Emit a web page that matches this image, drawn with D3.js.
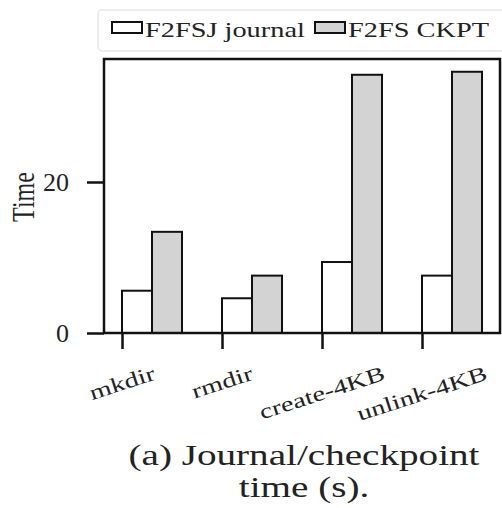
<!DOCTYPE html>
<html><head><meta charset="utf-8">
<script src="https://cdn.jsdelivr.net/npm/d3@7"></script>
<style>
html,body{margin:0;padding:0;background:#fff;}
svg text{font-family:"Liberation Serif","Times New Roman",serif;fill:#222;}
</style></head>
<body><svg id="c" width="502" height="508"></svg>
<script>
const categories = ["mkdir","rmdir","create-4KB","unlink-4KB"];
const journal = [5.6, 4.6, 9.4, 7.6];
const ckpt = [13.4, 7.6, 34.2, 34.6];
const seriesNames = ["F2FSJ journal","F2FS CKPT"];
const yTicks = [0, 20];
const yLabel = "Time";
const caption = ["(a) Journal/checkpoint","time (s)."];

const svg = d3.select("#c");
const L = 104, R = 500, T = 59, B = 333;
const SX = 1.35;
const x = d3.scaleLinear().domain([-0.18, 3.78]).range([L, R]);
const y = d3.scaleLinear().domain([0, 36.29]).range([B, T]);
const bw = 0.3;
const fills = ["#ffffff", "#d3d3d3"];
const series = [journal, ckpt];

series.forEach((vals, s) => {
  svg.append("g").selectAll("rect").data(vals).join("rect")
    .attr("x", (d, i) => x(i + s * bw))
    .attr("y", d => y(d))
    .attr("width", x(bw) - x(0))
    .attr("height", d => y(0) - y(d))
    .attr("fill", fills[s]).attr("stroke", "#111").attr("stroke-width", 2);
});

svg.append("rect").attr("x", L).attr("y", T).attr("width", R - L).attr("height", B - T)
  .attr("fill", "none").attr("stroke", "#111").attr("stroke-width", 2.5);

const ya = svg.append("g").attr("transform", `translate(${L},0)`)
  .call(d3.axisLeft(y).tickValues(yTicks).tickSize(17).tickPadding(17).tickFormat(d3.format("d")));
ya.select(".domain").remove();
ya.selectAll("line").attr("stroke", "#111").attr("stroke-width", 2.5);
ya.selectAll("text").attr("font-size", 26).attr("fill", "#222").attr("x", -35);

const xa = svg.append("g").attr("transform", `translate(0,${B})`)
  .call(d3.axisBottom(x).tickValues(d3.range(categories.length)).tickSize(16).tickFormat(""));
xa.select(".domain").remove();
xa.selectAll("line").attr("stroke", "#111").attr("stroke-width", 2.5);

const ang = 18, rad = ang * Math.PI / 180;
categories.forEach((c, i) => {
  const t = svg.append("text").text(c).attr("font-size", 21)
    .attr("text-anchor", "middle").attr("dominant-baseline", "central");
  const bb = t.node().getBBox();
  const ext = bb.width * SX * Math.sin(rad) + bb.height * Math.cos(rad);
  const yc = 361 + ext / 2;
  t.attr("transform", `translate(${x(i)},${yc}) rotate(${-ang}) scale(${SX},1)`);
});

svg.append("text").text(yLabel).attr("font-size", 24).attr("text-anchor", "middle")
  .attr("transform", `translate(34,197) rotate(-90) scale(1,1.3)`);

const lg = svg.append("g");
lg.append("rect").attr("x", 98).attr("y", 10).attr("width", 420).attr("height", 41)
  .attr("rx", 4).attr("fill", "#fff").attr("stroke", "#e6e6e6").attr("stroke-width", 1.5);
const lx = [112, 315];
seriesNames.forEach((n, s) => {
  lg.append("rect").attr("x", lx[s]).attr("y", 22).attr("width", 30).attr("height", 11)
    .attr("fill", fills[s]).attr("stroke", "#111").attr("stroke-width", 2);
  lg.append("text").text(n).attr("font-size", 21)
    .attr("transform", `translate(${lx[s] + 33},37) scale(${SX},1)`);
});

caption.forEach((c, k) => {
  svg.append("text").text(c).attr("font-size", 29).attr("text-anchor", "middle")
    .attr("transform", `translate(304,${465 + k * 32}) scale(${SX},1)`);
});
</script></body></html>
